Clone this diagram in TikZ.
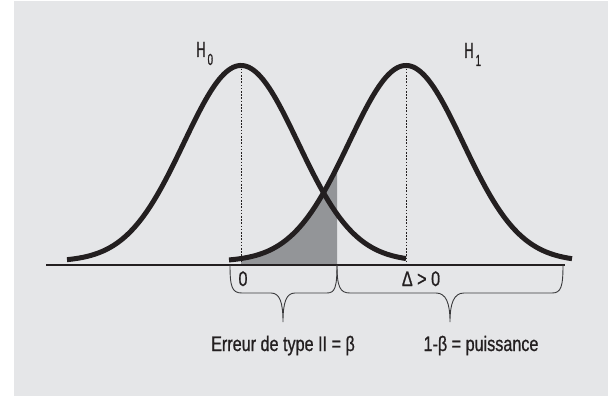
\documentclass[tikz,border=0pt]{standalone}
\usepackage{fontspec}
\setmainfont{Liberation Sans}
\newfontfamily\cf[FakeStretch=0.77,FakeBold=0.8]{Liberation Sans}
\newfontfamily\hf[FakeStretch=0.6,FakeBold=0.8]{Liberation Sans}
\definecolor{bg}{HTML}{E5E6E8}
\definecolor{ink}{HTML}{231F20}
\definecolor{shadefill}{HTML}{939598}
\definecolor{bracecol}{HTML}{3A3A3C}
\begin{document}
\begin{tikzpicture}[x=1pt,y=-1pt,
  curve/.style={line width=5pt, draw=ink, line cap=butt},
  axisline/.style={line width=1.2pt, draw=ink},
  dotline/.style={line width=0.9pt, draw=ink, dash pattern=on 1.6pt off 1.6pt},
  bracepath/.style={line width=0.9pt, draw=bracecol},
  lbl/.style={inner sep=0pt, text=ink, font=\cf\fontsize{21}{25}\selectfont},
  hlbl/.style={inner sep=0pt, text=ink, font=\hf\fontsize{22}{26}\selectfont},
  sublbl/.style={inner sep=0pt, text=ink, font=\hf\fontsize{16}{19}\selectfont}]
\useasboundingbox (0,0) rectangle (608,396);
\fill[bg] (14,1) rectangle (608,396);
% shaded area under H1 between 0 and critical value
\fill[shadefill] (241,265) -- plot[domain=241:337,samples=60] (\x,{261.5-196*exp(-0.5*((\x-406)/57)^2)}) -- (337,265) -- cycle;
% axis
\coordinate (axl) at (46,265);
\coordinate (axr) at (565,265);
\draw[axisline] (axl) -- (axr);
% peaks
\coordinate (p0) at (241,65.5);
\coordinate (p1) at (406,65.5);
\coordinate (f0) at (241,265);
\coordinate (f1) at (406,265);
\draw[dotline] (p0) -- (f0);
\draw[dotline] (p1) -- (f1);
% curves
\draw[curve] plot[domain=67:406,samples=150] (\x,{261.5-196*exp(-0.5*((\x-241)/57)^2)});
\draw[curve] plot[domain=229:572,samples=150] (\x,{261.5-196*exp(-0.5*((\x-406)/57)^2)});
% braces
\coordinate (b1l) at (230,265);
\coordinate (bm) at (337,265);
\coordinate (b2r) at (563,265);
\coordinate (t1) at (283,322);
\coordinate (t2) at (450,322);
\draw[bracepath] (b1l) .. controls (230,287) and (232,293) .. (242,293) -- (271,293)
  .. controls (280,293) and (283,303) .. (t1)
  .. controls (283,303) and (286,293) .. (295,293) -- (327,293)
  .. controls (335,293) and (337,287) .. (bm);
\draw[bracepath] (bm) .. controls (337,287) and (340,293) .. (350,293) -- (436,293)
  .. controls (446,293) and (450,303) .. (t2)
  .. controls (450,303) and (454,293) .. (464,293) -- (552,293)
  .. controls (561,293) and (563,287) .. (b2r);
% labels
\node[hlbl, anchor=base west] (h0) at (196,57) {H};
\node[sublbl, anchor=base west] (h0s) at (h0.base east) [xshift=1.5pt, yshift=-8pt] {0};
\node[hlbl, anchor=base west] (h1) at (464,58) {H};
\node[sublbl, anchor=base west] (h1s) at (h1.base east) [xshift=1.5pt, yshift=-8pt] {1};
\node[lbl, anchor=base] (zero) at (243,286) {0};
\node[lbl, anchor=base] (delta) at (421,286) {Δ > 0};
\node[lbl, anchor=base] (err) at (283,351) {Erreur de type II = β};
\node[lbl, anchor=base] (pow) at (481,351) {1-β = puissance};
\end{tikzpicture}
\end{document}
